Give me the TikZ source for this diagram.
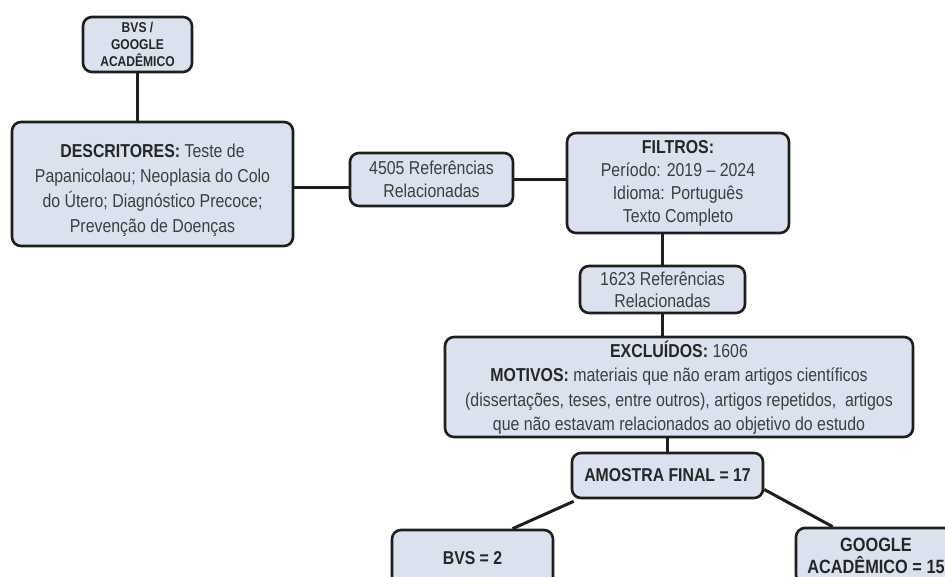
\documentclass[tikz,border=0pt]{standalone}
\usepackage{fontspec}
\setmainfont{Liberation Sans}[FakeStretch=0.85]
\definecolor{boxfill}{RGB}{218,226,240}
\definecolor{txt}{RGB}{62,62,62}
\definecolor{edge}{RGB}{30,30,30}
\begin{document}
\begin{tikzpicture}[x=1pt,y=-1pt,
  box/.style={draw=edge, line width=2.6pt, rounded corners=9pt, fill=boxfill,
    align=center, text=txt, inner sep=0pt, font=\fontsize{18.7}{25}\selectfont},
  conn/.style={draw=edge, line width=3pt}]
\clip (0,0) rectangle (945,576);
\fill[white] (0,0) rectangle (945,576);

\node[box, minimum width=109pt, minimum height=55pt, font=\bfseries\fontsize{14.2}{17}\selectfont, text=black!85]
  (top) at (137.5,44.5) {BVS /\\GOOGLE\\ACADÊMICO};
\node[box, minimum width=281pt, minimum height=124pt] (desc) at (152.5,184)
  {\rule{0pt}{25pt}\textbf{\color{black!85}DESCRITORES:} Teste de\\Papanicolaou; Neoplasia do Colo\\do Útero; Diagnóstico Precoce;\\Prevenção de Doenças};
\node[box, minimum width=163pt, minimum height=53pt, font=\fontsize{18.7}{23}\selectfont] (r4505) at (431.5,179.5)
  {4505 Referências\\Relacionadas};
\node[box, minimum width=222pt, minimum height=100pt, font=\fontsize{18.7}{23}\selectfont] (filt) at (678,183)
  {\textbf{\color{black!85}FILTROS:}\\Período: 2019 – 2024\\Idioma: Português\\Texto Completo};
\node[box, minimum width=165pt, minimum height=47pt, font=\fontsize{18.7}{22}\selectfont] (r1623) at (662.5,289.5)
  {1623 Referências\\Relacionadas};
\node[box, minimum width=468pt, minimum height=100pt, font=\fontsize{18.7}{24.5}\selectfont] (excl) at (679,387)
  {\rule{0pt}{18pt}\textbf{\color{black!85}EXCLUÍDOS:} 1606\\\textbf{\color{black!85}MOTIVOS:} materiais que não eram artigos científicos\\(dissertações, teses, entre outros), artigos repetidos,\ \ artigos\\que não estavam relacionados ao objetivo do estudo};
\node[box, minimum width=191pt, minimum height=45pt, font=\bfseries\fontsize{18.6}{20}\selectfont, text=black!85] (amostra) at (667.5,475.5)
  {AMOSTRA FINAL = 17};
\node[box, minimum width=161pt, minimum height=56pt, font=\bfseries\fontsize{18.6}{20}\selectfont, text=black!85] (bvs) at (472.5,558)
  {BVS = 2};
\node[box, minimum width=160pt, minimum height=56pt, font=\bfseries\fontsize{19.2}{22}\selectfont, text=black!85] (google) at (876,556)
  {GOOGLE\\ACADÊMICO = 15};

\draw[conn] (top.south) -- (top.south |- desc.north);
\draw[conn] ([yshift=-3pt]desc.east) -- ([yshift=-3pt]desc.east -| r4505.west);
\draw[conn] (r4505.east) -- (r4505.east -| filt.west);
\draw[conn] (r1623.north) -- (r1623.north |- filt.south);
\draw[conn] (r1623.south) -- (r1623.south |- excl.north);
\draw[conn] (amostra.north) -- (amostra.north |- excl.south);
\draw[conn] ([xshift=3pt,yshift=-2pt]amostra.south west) -- ([xshift=40pt]bvs.north);
\draw[conn] ([yshift=-14pt]amostra.east) -- ([xshift=38pt]google.north west);
\end{tikzpicture}
\end{document}
